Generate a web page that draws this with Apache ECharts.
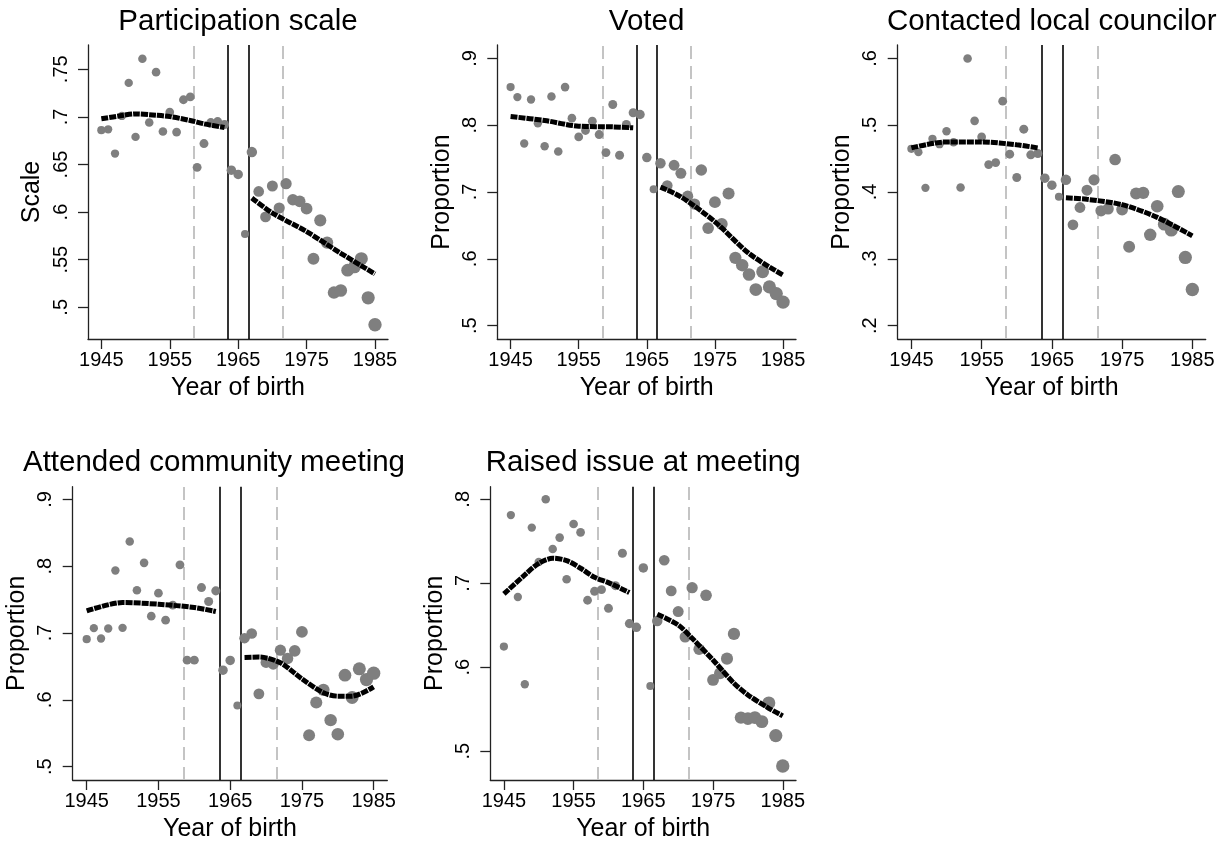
<!DOCTYPE html>
<html>
<head>
<meta charset="utf-8">
<script src="https://cdn.jsdelivr.net/npm/echarts@6/dist/echarts.min.js"></script>
<style>
html,body{margin:0;padding:0;background:#fff;}
#main{width:1231px;height:846px;}
</style>
</head>
<body>
<div id="main"></div>
<script>
// ---------- DATA ----------
const years = [1945,1946,1947,1948,1949,1950,1951,1952,1953,1954,1955,1956,1957,1958,1959,1960,1961,1962,1963,1964,1965,1966,1967,1968,1969,1970,1971,1972,1973,1974,1975,1976,1977,1978,1979,1980,1981,1982,1983,1984,1985];
const xTickLabels = [1945,1955,1965,1975,1985];
const cutoffsDashed = [1958.5, 1971.5];
const cutoffsSolid = [1963.5, 1966.5];

const titles = ["Participation scale","Voted","Contacted local councilor","Attended community meeting","Raised issue at meeting"];
const yNames = ["Scale","Proportion","Proportion","Proportion","Proportion"];

const scaleVals = [0.686,0.687,0.6615,0.701,0.7357,0.679,0.761,0.694,0.747,0.6846,0.705,0.684,0.718,0.721,0.647,0.672,0.694,0.695,0.692,0.644,0.6395,0.577,0.663,0.6217,0.5949,0.6274,0.6043,0.6298,0.613,0.6112,0.6036,0.551,0.5913,0.568,0.5155,0.5176,0.539,0.5425,0.551,0.510,0.4816];
const votedVals = [0.857,0.842,0.7726,0.8384,0.803,0.7686,0.843,0.7606,0.857,0.8105,0.7825,0.792,0.806,0.786,0.759,0.831,0.755,0.801,0.8185,0.816,0.7516,0.704,0.743,0.7097,0.740,0.728,0.6938,0.682,0.733,0.646,0.6848,0.652,0.6978,0.6015,0.5905,0.5766,0.554,0.5806,0.558,0.548,0.5352];
const contactVals = [0.4646,0.4596,0.4062,0.4796,0.4716,0.491,0.4746,0.4067,0.5997,0.5065,0.4825,0.441,0.444,0.5359,0.4566,0.4217,0.494,0.4556,0.4576,0.4207,0.4102,0.3928,0.4182,0.3509,0.3768,0.4027,0.4182,0.3718,0.3748,0.4486,0.3738,0.318,0.3978,0.3988,0.3359,0.3788,0.3519,0.3429,0.4007,0.302,0.2541];
const attendVals = [0.6908,0.7072,0.6918,0.7067,0.7935,0.7077,0.8369,0.7641,0.805,0.7252,0.7596,0.7192,0.7416,0.802,0.6594,0.6594,0.768,0.7471,0.7631,0.6444,0.6589,0.5915,0.6923,0.6993,0.609,0.6559,0.6534,0.6743,0.6618,0.6733,0.7017,0.5471,0.596,0.615,0.5696,0.5486,0.6369,0.6035,0.6464,0.6304,0.6399];
const raisedVals = [0.6246,0.7813,0.6837,0.5798,0.7663,0.7254,0.800,0.7409,0.7544,0.7048,0.7706,0.7607,0.6798,0.6905,0.6925,0.6702,0.6972,0.7357,0.652,0.6476,0.7183,0.5778,0.6552,0.7274,0.6909,0.6663,0.6361,0.6948,0.6214,0.6857,0.5849,0.5929,0.6103,0.6397,0.5401,0.5389,0.5401,0.5353,0.5575,0.5187,0.4825];

// local fits (left of cutoff, right of cutoff)
const scaleFitLX = [1945,1948,1950,1953,1955,1958,1960,1963];
const scaleFitLY = [0.698,0.7014,0.7031,0.7017,0.7003,0.6962,0.6927,0.6888];
const scaleFitRX = [1967,1970,1975,1980,1985];
const scaleFitRY = [0.6148,0.599,0.5795,0.5567,0.535];

const votedFitLX = [1945,1950,1955,1960,1963];
const votedFitLY = [0.813,0.807,0.7985,0.7975,0.796];
const votedFitRX = [1967,1970,1975,1980,1985];
const votedFitRY = [0.7072,0.6928,0.6554,0.608,0.5756];

const contactFitLX = [1945,1950,1955,1960,1963];
const contactFitLY = [0.466,0.475,0.475,0.4706,0.466];
const contactFitRX = [1967,1970,1975,1980,1985];
const contactFitRY = [0.3913,0.389,0.381,0.362,0.3344];

const attendFitLX = [1945,1950,1955,1960,1963];
const attendFitLY = [0.7332,0.7456,0.7431,0.7382,0.7322];
const attendFitRX = [1967,1969,1972,1975,1978,1980,1982,1985];
const attendFitRY = [0.6635,0.664,0.6554,0.6314,0.6105,0.6055,0.6055,0.6195];

const raisedFitLX = [1945,1948,1950,1952,1954,1956,1958,1960,1963];
const raisedFitLY = [0.6873,0.71,0.7238,0.7298,0.727,0.7179,0.7071,0.7008,0.6889];
const raisedFitRX = [1967,1970,1972,1975,1978,1980,1983,1985];
const raisedFitRY = [0.6631,0.6504,0.6345,0.6087,0.581,0.5671,0.5512,0.5421];

// y tick labels per panel
const yTicks1 = [0.5,0.55,0.6,0.65,0.7,0.75];
const yTicks2 = [0.5,0.6,0.7,0.8,0.9];
const yTicks3 = [0.2,0.3,0.4,0.5,0.6];
const yTicks4 = [0.5,0.6,0.7,0.8,0.9];
const yTicks5 = [0.5,0.6,0.7,0.8];

// ---------- LAYOUT / STYLE ----------
const FONT = "'Liberation Sans', Arial, Helvetica, sans-serif";
const panels = [
  {grid:{left:88, top:45, width:300, height:294}, titleX:238, titleTop:6.5, ymin:0.4667, ymax:0.7755, yTicks:yTicks1, vals:scaleVals, fl:[scaleFitLX,scaleFitLY], fr:[scaleFitRX,scaleFitRY]},
  {grid:{left:497.3, top:45, width:298.7, height:294}, titleX:646.6, titleTop:6.5, ymin:0.48, ymax:0.92, yTicks:yTicks2, vals:votedVals, fl:[votedFitLX,votedFitLY], fr:[votedFitRX,votedFitRY]},
  {grid:{left:897.7, top:45, width:308, height:294}, titleX:1051.7, titleTop:6.5, ymin:0.18, ymax:0.62, yTicks:yTicks3, vals:contactVals, fl:[contactFitLX,contactFitLY], fr:[contactFitRX,contactFitRY]},
  {grid:{left:72.7, top:486.7, width:314.6, height:293.3}, titleX:214, titleTop:448, ymin:0.48, ymax:0.919, yTicks:yTicks4, vals:attendVals, fl:[attendFitLX,attendFitLY], fr:[attendFitRX,attendFitRY]},
  {grid:{left:490.3, top:486.7, width:305.7, height:293.3}, titleX:643.2, titleTop:448, ymin:0.4658, ymax:0.815, yTicks:yTicks5, vals:raisedVals, fl:[raisedFitLX,raisedFitLY], fr:[raisedFitRX,raisedFitRY]}
];

function ptSize(year){
  if (year === 1966) return 8;
  if (year <= 1963) return 8.2 + (year - 1945) * 0.05;
  if (year <= 1965) return 9.5;
  return 10.5 + (year - 1967) * 0.16;
}
function fmtY(v){ return String(v).replace(/^0\./, '.'); }

const axisColor = '#222';
const option = {
  animation: false,
  backgroundColor: '#fff',
  title: [], grid: [], xAxis: [], yAxis: [], series: []
};

panels.forEach((p, i) => {
  option.grid.push(Object.assign({containLabel:false}, p.grid));
  option.title.push({
    text: titles[i],
    left: p.titleX,
    top: p.titleTop,
    textAlign: 'center',
    padding: 0,
    textStyle: {fontFamily: FONT, fontSize: 29.5, fontWeight: 'normal', color: '#000'}
  });
  option.xAxis.push({
    type: 'value', gridIndex: i, min: 1943.05, max: 1986.9,
    name: 'Year of birth', nameLocation: 'middle', nameGap: 37,
    nameTextStyle: {fontFamily: FONT, fontSize: 25, color: '#000'},
    axisLine: {show: true, onZero: false, lineStyle: {color: axisColor, width: 1.3}},
    axisTick: {show: true, inside: false, length: 10, customValues: xTickLabels, lineStyle: {color: axisColor, width: 1.3}},
    axisLabel: {customValues: xTickLabels, margin: 11, fontFamily: FONT, fontSize: 20, color: '#000',
      formatter: v => String(Math.round(v))},
    splitLine: {show: false}
  });
  option.yAxis.push({
    type: 'value', gridIndex: i, min: p.ymin, max: p.ymax,
    name: yNames[i], nameLocation: 'middle', nameGap: 43, nameRotate: 90,
    nameTextStyle: {fontFamily: FONT, fontSize: 25, color: '#000'},
    axisLine: {show: true, onZero: false, lineStyle: {color: axisColor, width: 1.3}},
    axisTick: {show: true, inside: false, length: 10, customValues: p.yTicks, lineStyle: {color: axisColor, width: 1.3}},
    axisLabel: {customValues: p.yTicks, rotate: 90, margin: 17, fontFamily: FONT, fontSize: 20, color: '#000',
      formatter: v => fmtY(v)},
    splitLine: {show: false}
  });
  const markData = [];
  cutoffsDashed.forEach(c => markData.push({xAxis: c, lineStyle: {color: '#c4c4c4', width: 2, type: [13, 7]}}));
  cutoffsSolid.forEach(c => markData.push({xAxis: c, lineStyle: {color: '#000', width: 1.6, type: 'solid'}}));
  option.series.push({
    type: 'scatter', xAxisIndex: i, yAxisIndex: i,
    data: years.map((y, k) => [y, p.vals[k]]),
    symbol: 'circle',
    symbolSize: d => ptSize(d[0]),
    itemStyle: {color: '#7f7f7f', opacity: 1},
    z: 2,
    markLine: {silent: true, symbol: ['none','none'], label: {show: false}, data: markData, animation: false, z: 1}
  });
  [p.fl, p.fr].forEach(f => {
    option.series.push({
      type: 'line', xAxisIndex: i, yAxisIndex: i,
      data: f[0].map((x, k) => [x, f[1][k]]),
      smooth: 0.3, showSymbol: false, symbol: 'none',
      lineStyle: {color: '#000', width: 5, type: [7, 1]},
      z: 3
    });
  });
});

const chart = echarts.init(document.getElementById('main'), null, {renderer: 'canvas'});
chart.setOption(option);
</script>
</body>
</html>
